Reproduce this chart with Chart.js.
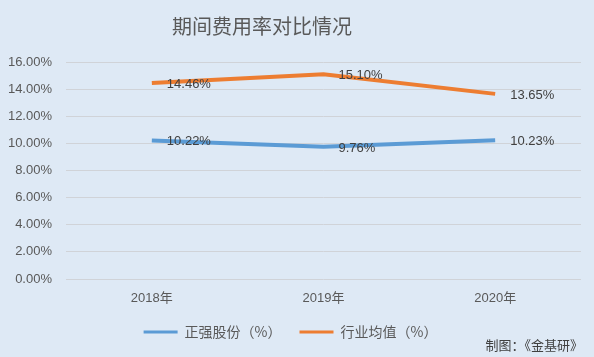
<!DOCTYPE html>
<html><head><meta charset="utf-8">
<script src="https://cdn.jsdelivr.net/npm/chart.js@4/dist/chart.umd.min.js"></script>
<style>html,body{margin:0;padding:0;background:#DEE9F5;}#wrap{width:594px;height:357px;}</style>
</head><body><div id="wrap"><canvas id="c" width="594" height="357"></canvas></div>
<script>
const categories = ['2018年', '2019年', '2020年'];
const seriesNames = ['正强股份（%）', '行业均值（%）'];
const zhengqiang = [10.22, 9.76, 10.23];
const industry = [14.46, 15.10, 13.65];
const yTicks = [0, 2, 4, 6, 8, 10, 12, 14, 16];
const titleText = '期间费用率对比情况';
const sourceText = '制图：《金基研》';

const FONT = '"Liberation Sans", "Noto Sans CJK SC", sans-serif';
const CJK = '"Noto Sans CJK SC", "Liberation Sans", sans-serif';

const bg = {
  id: 'bg',
  beforeDraw(chart) {
    const ctx = chart.ctx;
    ctx.save(); ctx.fillStyle = '#DEE9F5'; ctx.fillRect(0, 0, chart.width, chart.height); ctx.restore();
  }
};
const texts = {
  id: 'texts',
  afterDraw(chart) {
    const ctx = chart.ctx;
    ctx.save();
    ctx.fillStyle = '#595959';
    ctx.font = '20px ' + CJK;
    ctx.textAlign = 'center'; ctx.textBaseline = 'middle';
    ctx.fillText(titleText, 262, 26);
    ctx.font = '13px ' + CJK;
    ctx.fillStyle = '#404040';
    ctx.textAlign = 'right';
    ctx.fillText(sourceText, 583, 345);
    // data labels
    ctx.font = '13px ' + FONT;
    ctx.fillStyle = '#404040';
    ctx.textAlign = 'left';
    chart.data.datasets.forEach((ds, i) => {
      const meta = chart.getDatasetMeta(i);
      meta.data.forEach((pt, j) => {
        ctx.fillText(ds.data[j].toFixed(2) + '%', pt.x + 15, pt.y + 1.5);
      });
    });
    ctx.restore();
  }
};

new Chart(document.getElementById('c'), {
  type: 'line',
  data: {
    labels: categories,
    datasets: [
      { label: seriesNames[0], data: zhengqiang, borderColor: '#5B9BD5', backgroundColor: '#5B9BD5', borderWidth: 4, pointRadius: 0, tension: 0 },
      { label: seriesNames[1], data: industry, borderColor: '#ED7D31', backgroundColor: '#ED7D31', borderWidth: 4, pointRadius: 0, tension: 0 }
    ]
  },
  options: {
    responsive: false,
    animation: false,
    devicePixelRatio: 1,
    layout: { padding: { top: 62, left: 0, right: 13, bottom: 8 } },
    plugins: {
      title: { display: false },
      tooltip: { enabled: false },
      legend: {
        position: 'bottom',
        labels: {
          boxWidth: 34, boxHeight: 3, padding: 18,
          color: '#595959',
          font: { size: 14, family: CJK },
          generateLabels(chart) {
            return chart.data.datasets.map((ds, i) => ({
              text: ds.label, fillStyle: ds.borderColor, strokeStyle: ds.borderColor,
              lineWidth: 0, datasetIndex: i, fontColor: '#595959'
            }));
          }
        }
      }
    },
    scales: {
      x: {
        offset: true,
        grid: { display: false, drawTicks: false },
        border: { display: false },
        ticks: { color: '#595959', font: { size: 13, family: FONT }, padding: 12 },
        afterFit(s) { s.height = 28; }
      },
      y: {
        min: 0, max: 16,
        afterBuildTicks(s) { s.ticks = yTicks.map(v => ({ value: v })); },
        grid: { color: '#D0D3D8', lineWidth: 1, drawTicks: false },
        border: { display: false },
        ticks: { color: '#595959', font: { size: 13, family: FONT }, padding: 14, callback: v => v.toFixed(2) + '%' },
        afterFit(s) { s.width = 66; }
      }
    }
  },
  plugins: [bg, texts]
});
</script></body></html>
